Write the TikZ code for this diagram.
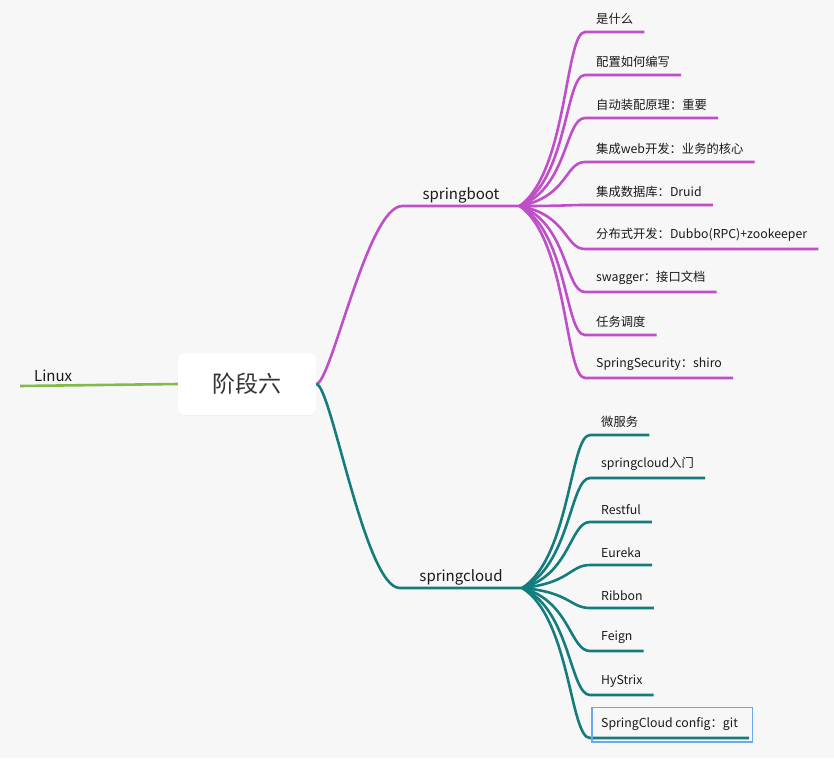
\documentclass[tikz,border=0pt]{standalone}
\usepackage{fontspec}
\setmainfont{Noto Sans CJK SC}
\usepackage{xcolor}
\usepackage{tikz}
\usetikzlibrary{shadows}
\definecolor{bgc}{HTML}{F7F7F7}
\definecolor{bootc}{HTML}{BF4FC8}
\definecolor{cloudc}{HTML}{157C7D}
\definecolor{linuxc}{HTML}{82BA4C}
\definecolor{selc}{HTML}{6AA9EE}
\definecolor{txtc}{HTML}{1A1A1A}

\begin{document}
\begin{tikzpicture}
          [x=1pt,y=-1pt,
          font=\fontsize{12.3}{14}\selectfont, text=txtc,
          root/.style={shape=rectangle,rounded corners=7pt,fill=white,minimum width=138pt,minimum height=62pt,
            font=\fontsize{23}{26}\selectfont,text=black!80,
            drop shadow={shadow xshift=0pt,shadow yshift=-1pt,opacity=0.06}},
          mid/.style={anchor=south,font=\fontsize{15}{18}\selectfont,inner ysep=3pt},
          leaf/.style={anchor=south west,inner xsep=11pt,inner ysep=7pt},
          boot/.style={draw=bootc,line width=2.6pt},
          cloud/.style={draw=cloudc,line width=2.6pt},
          lnx/.style={draw=linuxc,line width=2.6pt},
          selbox/.style={draw=selc,line width=1.2pt}]

            \fill [bgc] (0,0) rectangle (834,758);

            \node (root) [root] at (247,384) {阶段六};
            \node (lx) [leaf,inner xsep=14pt,font=\fontsize{15}{18}\selectfont,inner ysep=4pt] at (20,386) {Linux};

            \node (sb) [mid,minimum width=117pt] at (461,206) {springboot};
            \node (sc) [mid,minimum width=122pt] at (461,588) {springcloud};

            % springboot
            \node (b1) [leaf] at (585,32) {是什么};
            \node (b2) [leaf] at (585,75) {配置如何编写};
            \node (b3) [leaf] at (585,118) {自动装配原理：重要};
            \node (b4) [leaf] at (585,162) {集成web开发：业务的核心};
            \node (b5) [leaf] at (585,205) {集成数据库：Druid};
            \node (b6) [leaf] at (585,249) {分布式开发：Dubbo(RPC)+zookeeper};
            \node (b7) [leaf] at (585,292) {swagger：接口文档};
            \node (b8) [leaf] at (585,335) {任务调度};
            \node (b9) [leaf] at (585,378) {SpringSecurity：shiro};

            % springcloud
            \node (c1) [leaf] at (590,435) {微服务};
            \node (c2) [leaf] at (590,478) {springcloud入门};
            \node (c3) [leaf] at (590,522) {Restful};
            \node (c4) [leaf] at (590,565) {Eureka};
            \node (c5) [leaf] at (590,608) {Ribbon};
            \node (c6) [leaf] at (590,651) {Feign};
            \node (c7) [leaf] at (590,695) {HyStrix};
            \node (c8) [leaf] at (590,738) {SpringCloud config：git};

          \draw [lnx] (lx.south west) -- (root.west);
          \draw [boot] (root.east) .. controls +(15,0) and +(-35,0) .. (sb.south west) -- (sb.south east);
          \draw [cloud] (root.east) .. controls +(15,0) and +(-35,0) .. (sc.south west) -- (sc.south east);

            \draw [boot] (sb.south east) .. controls +(48,-35) and +(-20,0) .. (b1.south west) -- (b1.south east);
            \draw [boot] (sb.south east) .. controls +(48,-26) and +(-20,0) .. (b2.south west) -- (b2.south east);
            \draw [boot] (sb.south east) .. controls +(48,-18) and +(-20,0) .. (b3.south west) -- (b3.south east);
            \draw [boot] (sb.south east) .. controls +(48,-9) and +(-20,0) .. (b4.south west) -- (b4.south east);
            \draw [boot] (sb.south east) .. controls +(48,0) and +(-20,0) .. (b5.south west) -- (b5.south east);
            \draw [boot] (sb.south east) .. controls +(48,9) and +(-20,0) .. (b6.south west) -- (b6.south east);
            \draw [boot] (sb.south east) .. controls +(48,17) and +(-20,0) .. (b7.south west) -- (b7.south east);
            \draw [boot] (sb.south east) .. controls +(48,26) and +(-20,0) .. (b8.south west) -- (b8.south east);
            \draw [boot] (sb.south east) .. controls +(48,34) and +(-20,0) .. (b9.south west) -- (b9.south east);

            \draw [cloud] (sc.south east) .. controls +(48,-31) and +(-20,0) .. (c1.south west) -- (c1.south east);
            \draw [cloud] (sc.south east) .. controls +(48,-22) and +(-20,0) .. (c2.south west) -- (c2.south east);
            \draw [cloud] (sc.south east) .. controls +(48,-13) and +(-20,0) .. (c3.south west) -- (c3.south east);
            \draw [cloud] (sc.south east) .. controls +(48,-5) and +(-20,0) .. (c4.south west) -- (c4.south east);
            \draw [cloud] (sc.south east) .. controls +(48,4) and +(-20,0) .. (c5.south west) -- (c5.south east);
            \draw [cloud] (sc.south east) .. controls +(48,13) and +(-20,0) .. (c6.south west) -- (c6.south east);
            \draw [cloud] (sc.south east) .. controls +(48,21) and +(-20,0) .. (c7.south west) -- (c7.south east);
            \draw [cloud] (sc.south east) .. controls +(48,30) and +(-20,0) .. (c8.south west) -- (c8.south east);

            \draw [selbox] ([xshift=2pt,yshift=-4pt]c8.south west) rectangle ([xshift=3pt,yshift=3pt]c8.north east);

        \end{tikzpicture}
\end{document}
